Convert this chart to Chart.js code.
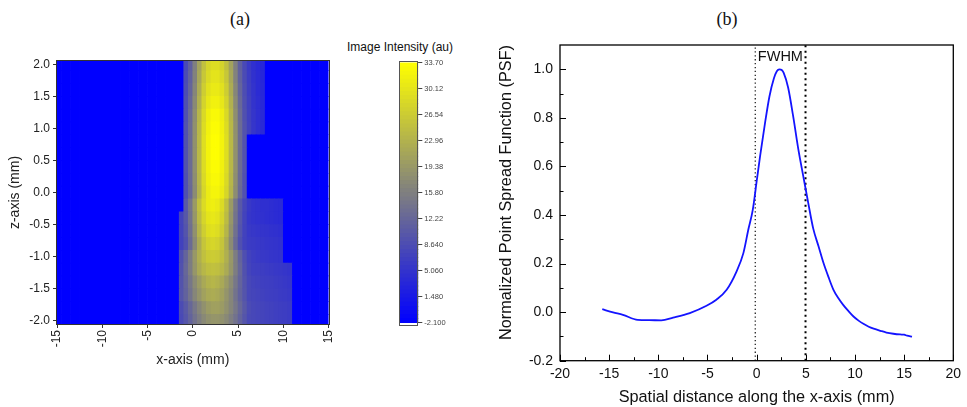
<!DOCTYPE html>
<html><head><meta charset="utf-8">
<script src="https://cdn.jsdelivr.net/npm/chart.js@4.4.1/dist/chart.umd.min.js"></script>
<style>
html,body{margin:0;padding:0;background:#fff;overflow:hidden;}
#wrap{position:relative;width:967px;height:407px;overflow:hidden;}
canvas{position:absolute;top:0;}
.lbl{position:absolute;white-space:nowrap;color:#111;transform:translate(-50%,-50%);line-height:1;}
</style></head><body>
<div id="wrap">
<div class="lbl" style="left:240px;top:19px;font:18px 'Liberation Serif',serif;">(a)</div>
<div class="lbl" style="left:727px;top:19px;font:18px 'Liberation Serif',serif;">(b)</div>
<div class="lbl" style="left:400px;top:47px;font:12px 'Liberation Sans',Arial,sans-serif;">Image Intensity (au)</div>
<canvas id="heat" width="345" height="407" style="left:0px;width:345px;height:407px"></canvas>
<canvas id="cbar" width="80" height="407" style="left:380px;width:80px;height:407px"></canvas>
<canvas id="psf" width="497" height="407" style="left:470px;width:497px;height:407px"></canvas>
</div>
<script>
// ---------------- (a) heat map data ----------------
const heatXTicks = [-15, -10, -5, 0, 5, 10, 15];
const heatZTicks = [-2.0, -1.5, -1.0, -0.5, 0.0, 0.5, 1.0, 1.5, 2.0];
const heatZ = [2.0, 1.8, 1.6, 1.4, 1.2, 1.0, 0.8, 0.6, 0.4, 0.2, 0.0, -0.2, -0.4, -0.6, -0.8, -1.0, -1.2, -1.4, -1.6, -1.8, -2.0];
const bandX = [-1.25, -0.75, -0.25, 0.25, 0.75, 1.25, 1.75, 2.25, 2.75, 3.25, 3.75, 4.25, 4.75, 5.25, 5.75, 6.25, 6.75, 7.25, 7.75, 8.25, 8.75, 9.25, 9.75, 10.25, 10.75];
const _ = null;
const heatRows = [
  [_, 8.1, 11.3, 15.7, 20.6, 24.9, 27.6, 28.9, 28.9, 27.6, 24.9, 20.6, 15.7, 11.3, 8.1, 6.1, 4.6, 3.8, 3.2, _, _, _, _, _, _],
  [_, 8.4, 11.7, 16.2, 21.3, 25.8, 28.5, 29.9, 29.9, 28.5, 25.8, 21.3, 16.2, 11.7, 8.4, 6.3, 4.8, 3.9, 3.3, _, _, _, _, _, _],
  [_, 8.7, 12.1, 16.7, 22.0, 26.7, 29.5, 30.8, 30.8, 29.5, 26.7, 22.0, 16.7, 12.1, 8.7, 6.5, 5.0, 4.0, 3.4, _, _, _, _, _, _],
  [_, 9.0, 12.5, 17.3, 22.7, 27.5, 30.4, 31.8, 31.8, 30.4, 27.5, 22.7, 17.3, 12.5, 9.0, 6.7, 5.1, 4.2, 3.5, _, _, _, _, _, _],
  [_, 9.2, 12.9, 17.8, 23.4, 28.4, 31.4, 32.8, 32.8, 31.4, 28.4, 23.4, 17.8, 12.9, 9.2, 6.9, 5.3, 4.3, 3.6, _, _, _, _, _, _],
  [_, 9.4, 13.1, 18.1, 23.8, 28.8, 31.8, 33.3, 33.3, 31.8, 28.8, 23.8, 18.1, 13.1, 9.4, 7.0, 5.4, 4.4, 3.7, _, _, _, _, _, _],
  [_, 9.4, 13.1, 18.2, 23.9, 29.0, 32.0, 33.5, 33.5, 32.0, 29.0, 23.9, 18.2, 13.1, 9.4, _, _, _, _, _, _, _, _, _, _],
  [_, 9.4, 13.1, 18.2, 23.9, 29.0, 32.0, 33.5, 33.5, 32.0, 29.0, 23.9, 18.2, 13.1, 9.4, _, _, _, _, _, _, _, _, _, _],
  [_, 9.4, 13.1, 18.1, 23.8, 28.8, 31.8, 33.3, 33.3, 31.8, 28.8, 23.8, 18.1, 13.1, 9.4, _, _, _, _, _, _, _, _, _, _],
  [_, 9.2, 12.9, 17.8, 23.4, 28.4, 31.4, 32.8, 32.8, 31.4, 28.4, 23.4, 17.8, 12.9, 9.2, _, _, _, _, _, _, _, _, _, _],
  [_, 9.1, 12.7, 17.6, 23.1, 28.0, 30.9, 32.3, 32.3, 30.9, 28.0, 23.1, 17.6, 12.7, 9.1, _, _, _, _, _, _, _, _, _, _],
  [_, 10.4, 14.5, 19.5, 24.9, 28.7, 30.9, 31.5, 30.9, 28.7, 24.9, 19.5, 14.5, 10.4, 7.6, 5.7, 5.0, 4.8, 4.5, 4.5, 4.2, 4.0, 3.8, _, _],
  [7.3, 10.1, 14.0, 18.9, 24.1, 27.8, 29.9, 30.5, 29.9, 27.8, 24.1, 18.9, 14.0, 10.1, 7.3, 5.5, 5.0, 4.8, 4.6, 4.4, 4.2, 4.0, 3.8, _, _],
  [7.1, 9.7, 13.6, 18.3, 23.3, 26.8, 28.9, 29.5, 28.9, 26.8, 23.3, 18.3, 13.6, 9.7, 7.1, 5.9, 5.6, 5.4, 5.2, 5.0, 4.8, 4.6, 4.4, _, _],
  [7.0, 9.2, 12.9, 17.4, 22.1, 25.5, 27.4, 28.0, 27.4, 25.5, 22.1, 17.4, 12.9, 9.2, 7.0, 6.2, 6.0, 5.8, 5.6, 5.4, 5.2, 5.0, 4.8, _, _],
  [9.0, 11.9, 15.4, 19.3, 22.5, 24.9, 26.2, 26.5, 26.2, 24.9, 22.5, 19.3, 15.4, 11.9, 9.0, 7.2, 6.4, 6.0, 5.8, 5.6, 5.4, 5.2, 5.0, _, _],
  [9.3, 12.3, 15.5, 19.0, 21.8, 23.6, 24.7, 25.0, 24.7, 23.6, 21.8, 19.0, 15.5, 12.3, 9.3, 7.5, 6.8, 6.6, 6.4, 6.2, 6.0, 5.8, 5.6, 5.3, 5.0],
  [9.6, 12.0, 14.6, 17.4, 19.7, 21.6, 22.9, 23.5, 22.9, 21.6, 19.7, 17.4, 14.6, 12.0, 9.6, 7.8, 7.3, 7.0, 6.8, 6.6, 6.4, 6.2, 6.0, 5.8, 5.5],
  [9.7, 11.7, 14.1, 16.7, 18.7, 20.5, 21.6, 22.0, 21.6, 20.5, 18.7, 16.7, 14.1, 11.7, 9.7, 7.9, 7.6, 7.3, 7.0, 6.8, 6.6, 6.4, 6.2, 6.0, 5.8],
  [8.4, 10.3, 12.3, 14.6, 16.6, 18.2, 19.7, 20.3, 20.3, 19.7, 18.2, 16.6, 14.6, 12.3, 10.3, 8.4, 7.8, 7.6, 7.4, 7.2, 7.0, 6.8, 6.6, 6.4, 6.2],
  [8.2, 9.9, 11.8, 13.9, 15.6, 17.1, 18.2, 18.8, 18.8, 18.2, 17.1, 15.6, 13.9, 11.8, 9.9, 8.2, 7.8, 7.6, 7.4, 7.2, 7.0, 6.8, 6.6, 6.4, 6.2]
];
const bgValue = -2.1;          // value of cells outside the measured band
const cbMin = -2.1, cbMax = 33.7;
const cbTicks = [-2.1, 1.48, 5.06, 8.64, 12.22, 15.8, 19.38, 22.96, 26.54, 30.12, 33.7];
const cbTickLabels = ['-2.100', '1.480', '5.060', '8.640', '12.22', '15.80', '19.38', '22.96', '26.54', '30.12', '33.70'];

// ---------------- (b) PSF data ----------------
const psfX = [-15.7, -14.6, -13.6, -12.1, -10.9, -9.7, -8.5, -6.8, -5.1, -4.1, -3.05, -2.05, -1.35, -0.85, -0.4, 0.0, 0.35, 0.85, 1.3, 1.75, 2.05, 2.3, 2.55, 2.75, 3.2, 3.7, 4.25, 4.75, 5.25, 5.75, 6.3, 6.8, 7.3, 7.8, 8.3, 8.8, 9.3, 9.85, 10.4, 10.9, 11.4, 11.9, 12.6, 13.2, 13.9, 14.6, 15.0, 15.3, 15.8];
const psfY = [0.012, -0.001, -0.011, -0.032, -0.033, -0.034, -0.023, -0.004, 0.026, 0.051, 0.092, 0.167, 0.243, 0.339, 0.42, 0.538, 0.642, 0.778, 0.888, 0.962, 0.992, 1.0, 0.997, 0.985, 0.925, 0.81, 0.668, 0.558, 0.449, 0.345, 0.27, 0.202, 0.145, 0.093, 0.058, 0.03, 0.006, -0.018, -0.036, -0.049, -0.06, -0.068, -0.077, -0.084, -0.089, -0.092, -0.093, -0.097, -0.101];
const fwhmX = [-0.14, 4.97];
const fwhmLabel = 'FWHM';
const psfXMajor = [-20, -15, -10, -5, 0, 5, 10, 15, 20];
const psfXMinor = [-17.5, -12.5, -7.5, -2.5, 2.5, 7.5, 12.5, 17.5];
const psfYMajor = [-0.2, 0.0, 0.2, 0.4, 0.6, 0.8, 1.0];
const psfYMinor = [-0.1, 0.1, 0.3, 0.5, 0.7, 0.9];

const F = "'Liberation Sans', Arial, sans-serif";

function heatColor(v) {
  const t = Math.max(0, Math.min(1, (v - cbMin) / (cbMax - cbMin)));
  const c = Math.round(255 * t);
  return 'rgb(' + c + ',' + c + ',' + (255 - c) + ')';
}

// build heat cells (grid of 0.5 mm columns x 0.2 mm rows)
const cellW = bandX[1] - bandX[0];
const cellH = heatZ[0] - heatZ[1];
const heatCells = [];
heatZ.forEach((z, r) => {
  for (let k = 0; ; k++) {
    const x = heatXTicks[0] + cellW / 2 + k * cellW;
    if (x > heatXTicks[heatXTicks.length - 1]) break;
    const j = Math.round((x - bandX[0]) / cellW);
    let v = bgValue;
    if (j >= 0 && j < bandX.length && heatRows[r][j] !== null) v = heatRows[r][j];
    heatCells.push({x: x, y: [z - cellH / 2, z + cellH / 2], v: v});
  }
});

const frameHeat = {
  id: 'frameHeat',
  afterDraw(chart) {
    const a = chart.chartArea, c = chart.ctx;
    c.save(); c.strokeStyle = '#333'; c.lineWidth = 1;
    c.strokeRect(Math.round(a.left) - 0.5, Math.round(a.top) - 0.5, Math.round(a.right - a.left) + 1, Math.round(a.bottom - a.top) + 1);
    c.restore();
  }
};

new Chart(document.getElementById('heat'), {
  type: 'bar',
  data: { datasets: [{
    data: heatCells,
    backgroundColor: ctx => heatColor(ctx.raw ? ctx.raw.v : bgValue),
    borderWidth: 0, barPercentage: 1, categoryPercentage: 1, inflateAmount: 0.35, clip: 0
  }]},
  options: {
    responsive: false, animation: false, events: [],
    layout: { padding: { top: 61, right: 12, bottom: 38, left: 0 } },
    plugins: { legend: { display: false }, tooltip: { enabled: false } },
    scales: {
      x: {
        type: 'linear', min: -15, max: 15, offset: false,
        afterBuildTicks: s => { s.ticks = heatXTicks.map(v => ({ value: v })); },
        afterFit: s => { s.height = 45; },
        grid: { drawOnChartArea: false, offset: false, tickLength: 4, color: '#333' },
        border: { color: '#333' },
        ticks: { minRotation: 90, maxRotation: 90, padding: 2, autoSkip: false, color: '#222', font: { size: 12, family: F }, callback: v => String(v) },
        title: { display: true, text: 'x-axis (mm)', color: '#222', font: { size: 14, family: F }, padding: { top: 0, bottom: 0 } }
      },
      y: {
        type: 'linear', min: -2.05, max: 2.05,
        afterBuildTicks: s => { s.ticks = heatZTicks.map(v => ({ value: v })); },
        afterFit: s => { s.width = 57; },
        grid: { drawOnChartArea: false, tickLength: 4, color: '#333' },
        border: { color: '#333' },
        ticks: { padding: 3, autoSkip: false, color: '#222', font: { size: 12, family: F }, callback: v => v.toFixed(1) },
        title: { display: true, text: 'z-axis (mm)', color: '#222', font: { size: 14, family: F }, padding: { top: 7, bottom: 0 } }
      }
    }
  },
  plugins: [frameHeat]
});

// ---------------- colour bar ----------------
const cbSteps = 64;
const cbDatasets = [];
for (let i = 0; i < cbSteps; i++) {
  const lo = cbMin + (cbMax - cbMin) * i / cbSteps, hi = cbMin + (cbMax - cbMin) * (i + 1) / cbSteps;
  cbDatasets.push({ data: [[lo, hi]], backgroundColor: heatColor((lo + hi) / 2), borderWidth: 0,
    barPercentage: 1, categoryPercentage: 1, grouped: false, inflateAmount: 0.4 });
}
const frameCb = {
  id: 'frameCb',
  afterDraw(chart) {
    const a = chart.chartArea, c = chart.ctx;
    c.save(); c.strokeStyle = '#555'; c.lineWidth = 1;
    c.strokeRect(Math.round(a.left) + 0.5, Math.round(a.top) + 0.5, Math.round(a.right - a.left) - 1, Math.round(a.bottom - a.top) - 1);
    c.restore();
  }
};
new Chart(document.getElementById('cbar'), {
  type: 'bar',
  data: { labels: [''], datasets: cbDatasets },
  options: {
    responsive: false, animation: false, events: [],
    layout: { padding: { top: 60.5, bottom: 82, left: 19.3, right: 0 } },
    plugins: { legend: { display: false }, tooltip: { enabled: false } },
    scales: {
      x: { display: false },
      y: {
        position: 'right', min: -2.445, max: 34.04,
        afterBuildTicks: s => { s.ticks = cbTicks.map(v => ({ value: v })); },
        afterFit: s => { s.width = 41.7; },
        grid: { drawOnChartArea: false, tickLength: 4, color: '#444' },
        border: { display: false },
        ticks: { padding: 2, autoSkip: false, color: '#444', font: { size: 7.5, family: F }, callback: (v, i) => cbTickLabels[i] }
      }
    }
  },
  plugins: [frameCb]
});

// ---------------- (b) PSF chart ----------------
const psfDecor = {
  id: 'psfDecor',
  afterDraw(chart) {
    const a = chart.chartArea, c = chart.ctx, xs = chart.scales.x, ys = chart.scales.y;
    c.save();
    c.strokeStyle = '#000'; c.lineWidth = 1;
    const tick = (x1, y1, x2, y2) => { c.beginPath(); c.moveTo(x1, y1); c.lineTo(x2, y2); c.stroke(); };
    psfXMajor.forEach(v => { const p = Math.round(xs.getPixelForValue(v)) + 0.5; tick(p, a.bottom, p, a.bottom - 6); });
    psfXMinor.forEach(v => { const p = Math.round(xs.getPixelForValue(v)) + 0.5; tick(p, a.bottom, p, a.bottom - 3.5); });
    psfYMajor.forEach(v => { const p = Math.round(ys.getPixelForValue(v)) + 0.5; tick(a.left, p, a.left + 6, p); });
    psfYMinor.forEach(v => { const p = Math.round(ys.getPixelForValue(v)) + 0.5; tick(a.left, p, a.left + 3.5, p); });
    c.lineWidth = 1.3;
    c.strokeRect(a.left, a.top, a.right - a.left, a.bottom - a.top);
    c.fillStyle = '#111';
    c.font = '14.5px ' + F;
    c.textAlign = 'center'; c.textBaseline = 'middle';
    c.fillText(fwhmLabel, xs.getPixelForValue((fwhmX[0] + fwhmX[1]) / 2), ys.getPixelForValue(1.052));
    c.restore();
  }
};

new Chart(document.getElementById('psf'), {
  type: 'line',
  data: { datasets: [
    { data: psfX.map((x, i) => ({ x: x, y: psfY[i] })), borderColor: 'rgb(20,20,255)', borderWidth: 1.8,
      pointRadius: 0, cubicInterpolationMode: 'monotone', fill: false },
    { data: [{ x: fwhmX[0], y: -0.2 }, { x: fwhmX[0], y: 1.1 }], borderColor: '#222', borderWidth: 1.3,
      borderDash: [1.3, 2.6], pointRadius: 0, fill: false },
    { data: [{ x: fwhmX[1], y: -0.2 }, { x: fwhmX[1], y: 1.1 }], borderColor: '#000', borderWidth: 2,
      borderDash: [2, 3.5], pointRadius: 0, fill: false }
  ]},
  options: {
    responsive: false, animation: false, events: [],
    layout: { padding: { top: 45, right: 13.7, bottom: 0, left: 0 } },
    plugins: { legend: { display: false }, tooltip: { enabled: false } },
    scales: {
      x: {
        type: 'linear', min: -20, max: 20,
        afterBuildTicks: s => { s.ticks = psfXMajor.map(v => ({ value: v })); },
        afterFit: s => { s.height = 46.3; },
        grid: { display: false, drawTicks: false },
        border: { display: false },
        ticks: { padding: 5, autoSkip: false, maxRotation: 0, color: '#111', font: { size: 14, family: F }, callback: v => String(v) },
        title: { display: true, text: 'Spatial distance along the x-axis (mm)', color: '#111', font: { size: 16.3, family: F }, padding: { top: 0, bottom: 0 } }
      },
      y: {
        type: 'linear', min: -0.2, max: 1.1,
        afterBuildTicks: s => { s.ticks = psfYMajor.map(v => ({ value: v })); },
        afterFit: s => { s.width = 90; },
        grid: { display: false, drawTicks: false },
        border: { display: false },
        ticks: { padding: 7, autoSkip: false, color: '#111', font: { size: 14, family: F }, callback: v => v.toFixed(1) },
        title: { display: true, text: 'Normalized Point Spread Function (PSF)', align: 'end', color: '#111', font: { size: 16.3, family: F }, padding: { top: 27, bottom: 0 } }
      }
    }
  },
  plugins: [psfDecor]
});
</script>
</body></html>
